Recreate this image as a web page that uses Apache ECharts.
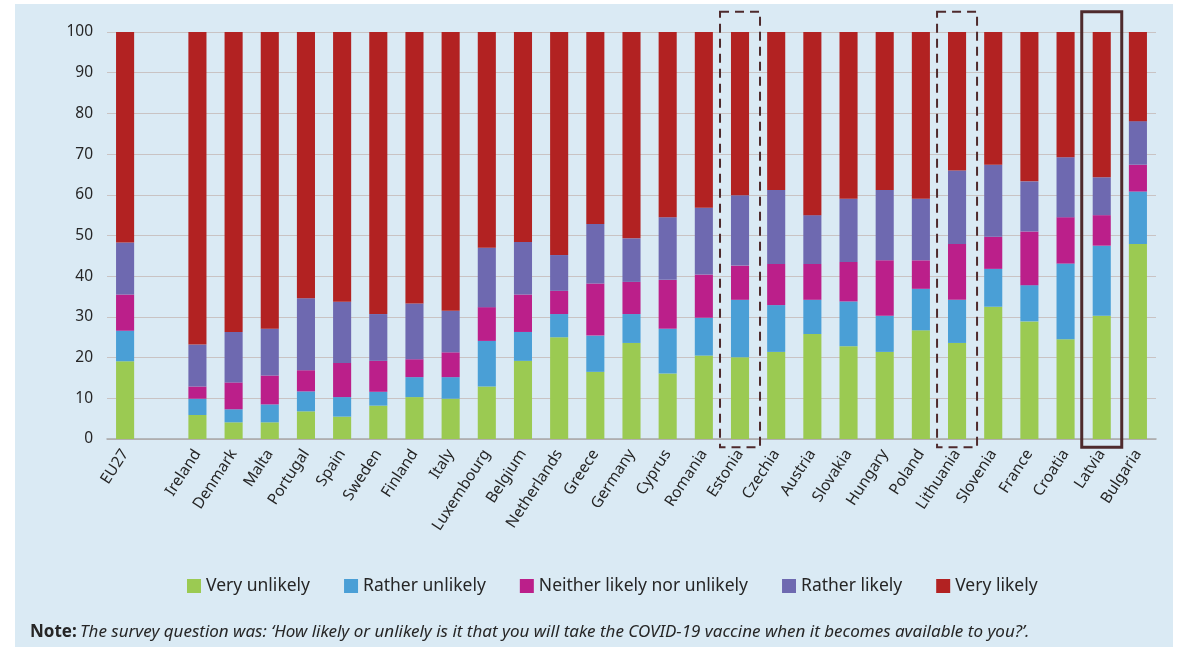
<!DOCTYPE html>
<html lang="en">
<head>
    <meta charset="UTF-8">
    <title>COVID-19 vaccine likelihood</title>
    <script src="https://cdn.jsdelivr.net/npm/echarts@6/dist/echarts.min.js"></script>
    <style>
        body { margin: 0; background: #fff; }
    </style>
</head>
<body>
    <div id="main" style="width: 1178px;height:647px;"></div>
    <script type="text/javascript">
      // countries (the empty one is the gap after EU27)
      var countries = ['EU27', '', 'Ireland', 'Denmark', 'Malta', 'Portugal', 'Spain', 'Sweden', 'Finland', 'Italy',
        'Luxembourg', 'Belgium', 'Netherlands', 'Greece', 'Germany', 'Cyprus', 'Romania', 'Estonia', 'Czechia',
        'Austria', 'Slovakia', 'Hungary', 'Poland', 'Lithuania', 'Slovenia', 'France', 'Croatia', 'Latvia', 'Bulgaria'];

      var veryUnlikely   = [19.1, null, 5.9, 4.1, 4.1, 6.8, 5.5, 8.2, 10.3, 9.9, 12.9, 19.2, 25.0, 16.5, 23.6, 16.1, 20.5, 20.1, 21.4, 25.8, 22.8, 21.4, 26.7, 23.6, 32.5, 28.9, 24.5, 30.3, 47.9];
      var ratherUnlikely = [7.5, null, 4.0, 3.2, 4.4, 4.9, 4.8, 3.4, 4.9, 5.3, 11.2, 7.1, 5.7, 8.9, 7.1, 11.0, 9.3, 14.1, 11.5, 8.4, 11.0, 8.9, 10.2, 10.6, 9.3, 8.9, 18.6, 17.2, 12.9];
      var neither        = [8.9, null, 3.0, 6.6, 7.1, 5.2, 8.4, 7.6, 4.4, 6.1, 8.3, 9.2, 5.7, 12.8, 7.9, 12.0, 10.6, 8.4, 10.1, 8.8, 9.7, 13.6, 7.0, 13.7, 7.9, 13.2, 11.4, 7.5, 6.6];
      var ratherLikely   = [12.8, null, 10.3, 12.4, 11.5, 17.7, 15.0, 11.5, 13.7, 10.2, 14.6, 12.9, 8.8, 14.6, 10.7, 15.4, 16.4, 17.3, 18.2, 12.0, 15.5, 17.3, 15.1, 18.1, 17.7, 12.3, 14.7, 9.3, 10.7];
      var veryLikely     = [51.7, null, 76.8, 73.7, 72.9, 65.4, 66.3, 69.3, 66.7, 68.5, 53.0, 51.6, 54.8, 47.2, 50.7, 45.5, 43.2, 40.1, 38.8, 45.0, 41.0, 38.8, 41.0, 34.0, 32.6, 36.7, 30.8, 35.7, 21.9];

      var seriesNames = ['Very unlikely', 'Rather unlikely', 'Neither likely nor unlikely', 'Rather likely', 'Very likely'];
      var seriesData = [veryUnlikely, ratherUnlikely, neither, ratherLikely, veryLikely];
      var colors = ['#9bca52', '#4a9fd6', '#bb1f8a', '#6e69b0', '#b22222'];

      // countries that get a box around them
      var dashedBoxes = ['Estonia', 'Lithuania'];
      var solidBoxes = ['Latvia'];

      var font = 'Noto Sans';
      var textColor = '#262626';

      var myChart = echarts.init(document.getElementById('main'));

      var option = {
        animation: false,
        backgroundColor: '#ffffff',
        textStyle: { fontFamily: font },
        grid: { left: 107, right: 22, top: 32, bottom: 208 },
        legend: {
          top: 572,
          left: 182,
          itemWidth: 14,
          itemHeight: 14,
          itemGap: 34,
          icon: 'rect',
          textStyle: { fontSize: 17.5, color: textColor, fontFamily: font },
          data: seriesNames
        },
        xAxis: {
          type: 'category',
          data: countries,
          axisTick: { show: false },
          axisLine: { lineStyle: { color: '#a8a8a8', width: 1.5 } },
          axisLabel: { rotate: 57, fontSize: 15.5, color: textColor, interval: 0, margin: 12 }
        },
        yAxis: {
          type: 'value',
          min: 0,
          max: 100,
          interval: 10,
          axisLabel: { fontSize: 15.5, color: textColor, margin: 14 },
          splitLine: { lineStyle: { color: '#c9c3c3' } }
        },
        series: seriesNames.map(function (name, i) {
          return {
            name: name,
            type: 'bar',
            stack: 'total',
            barWidth: '50%',
            itemStyle: { color: colors[i] },
            data: seriesData[i]
          };
        }),
        graphic: []
      };

      myChart.setOption(option);

      // panel, boxes and note drawn after the axes exist
      var graphics = [
        {
          type: 'rect', z: -10, silent: true,
          shape: { x: 15, y: 4, width: 1158, height: 643 },
          style: { fill: '#daeaf4' }
        },
        {
          type: 'text', left: 30, top: 624, z: 10,
          style: {
            text: '{b|Note:} {i|The survey question was: \u2018How likely or unlikely is it that you will take the COVID-19 vaccine when it becomes available to you?\u2019.}',
            rich: {
              b: { fontWeight: 'bold', fontSize: 17, fill: textColor, fontFamily: font },
              i: { fontStyle: 'italic', fontSize: 17, fill: textColor, fontFamily: font }
            }
          }
        }
      ];

      function boxFor(name, dashed) {
        var top = myChart.convertToPixel({ gridIndex: 0 }, [name, 105]);
        var bottom = myChart.convertToPixel({ gridIndex: 0 }, [name, -2]);
        return {
          type: 'rect', z: 20, silent: true,
          shape: { x: top[0] - 20, y: top[1], width: 40, height: bottom[1] - top[1] },
          style: {
            fill: 'none',
            stroke: '#4e2a2c',
            lineWidth: dashed ? 2 : 3,
            lineDash: dashed ? [9, 6] : null
          }
        };
      }
      dashedBoxes.forEach(function (c) { graphics.push(boxFor(c, true)); });
      solidBoxes.forEach(function (c) { graphics.push(boxFor(c, false)); });

      myChart.setOption({ graphic: graphics });
    </script>
</body>
</html>
